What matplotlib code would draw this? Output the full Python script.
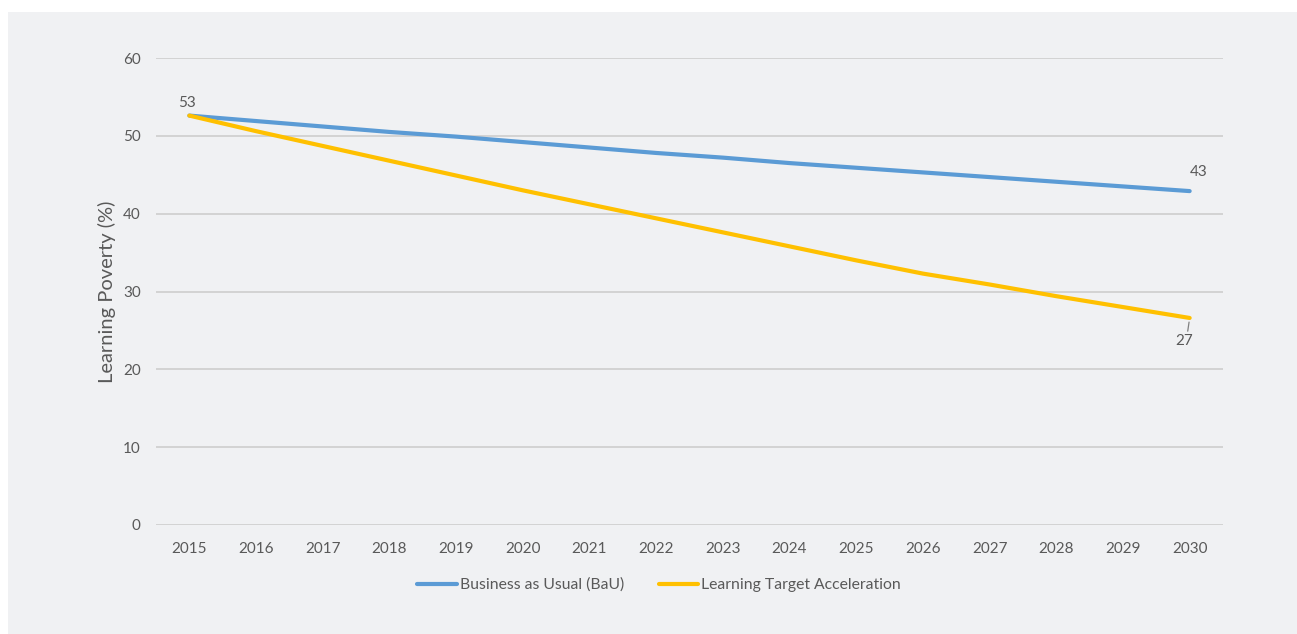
import matplotlib
matplotlib.use("Agg")
from matplotlib import pyplot as plt
from matplotlib.patches import Rectangle

years = list(range(2015, 2031))
bau = [52.6, 51.9, 51.2, 50.5, 49.9, 49.2, 48.5, 47.8, 47.2, 46.5,
       45.9, 45.3, 44.7, 44.1, 43.5, 42.9]
acceleration = [52.6, 50.6, 48.7, 46.8, 44.9, 43.0, 41.2, 39.4, 37.6, 35.8,
                34.0, 32.3, 30.9, 29.4, 28.0, 26.6]
y_ticks = [0, 10, 20, 30, 40, 50, 60]

text_col = "#595959"
font = "Lato"

fig = plt.figure(figsize=(12.97, 6.34), dpi=100)
fig.patch.set_facecolor("white")
fig.patches.append(Rectangle((8 / 1297, 0), 1, (634 - 12) / 634,
                             transform=fig.transFigure, facecolor="#F0F1F3",
                             edgecolor="none", zorder=-10))

ax = fig.add_axes([156 / 1297, 109 / 634, 1067 / 1297, 467 / 634])
ax.set_facecolor("none")

x = list(range(len(years)))
ax.plot(x, bau, color="#5B9BD5", linewidth=3, solid_capstyle="round",
        label="Business as Usual (BaU)", zorder=3)
ax.plot(x, acceleration, color="#FFC000", linewidth=3, solid_capstyle="round",
        label="Learning Target Acceleration", zorder=3)

ax.set_xlim(-0.5, len(years) - 0.5)
ax.set_ylim(0, 60)
ax.set_xticks(x)
ax.set_xticklabels([str(y) for y in years])
ax.set_yticks(y_ticks)
ax.yaxis.grid(True, color="#D0D0D0", linewidth=1.3)
ax.set_axisbelow(True)
for s in ax.spines.values():
    s.set_visible(False)
ax.tick_params(axis="both", length=0, labelsize=11, labelcolor=text_col)
ax.tick_params(axis="x", pad=12)
ax.tick_params(axis="y", pad=11)
for lab in ax.get_xticklabels() + ax.get_yticklabels():
    lab.set_fontfamily(font)

ax.set_ylabel("Learning Poverty (%)", fontsize=14.5, color=text_col,
              fontfamily=font, labelpad=5)

# value labels at start and end points
ax.annotate(f"{round(bau[0])}", (x[0], bau[0]), xytext=(-2, 13),
            textcoords="offset pixels", ha="center", va="center",
            fontsize=11, color=text_col, fontfamily=font)
ax.annotate(f"{round(bau[-1])}", (x[-1], bau[-1]), xytext=(9, 19),
            textcoords="offset pixels", ha="center", va="center",
            fontsize=11, color=text_col, fontfamily=font)
ax.annotate(f"{round(acceleration[-1])}", (x[-1], acceleration[-1]),
            xytext=(-5, -23), textcoords="offset pixels", ha="center",
            va="center", fontsize=11, color=text_col, fontfamily=font,
            arrowprops=dict(arrowstyle="-", color="#808080", lw=0.9,
                            shrinkA=0, shrinkB=3, relpos=(0.65, 1.0)))

leg = fig.legend(loc="center", bbox_to_anchor=(659 / 1297, 1 - 585 / 634),
                 ncol=2, frameon=False, handlelength=2.5, handletextpad=0.2,
                 columnspacing=2.2, prop={"family": font, "size": 11.3})
for t in leg.get_texts():
    t.set_color(text_col)

fig.savefig("out.png", dpi=100)
